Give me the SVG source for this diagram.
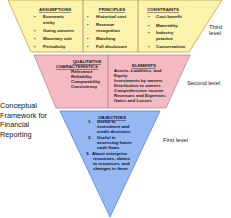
<svg xmlns="http://www.w3.org/2000/svg" width="231" height="218" viewBox="0 0 231 218">
<style>
.y{fill:#FCF3AC;stroke:#B9A65A;stroke-width:0.8}
.p{fill:#F3BAC3;stroke:#B58A8E;stroke-width:0.8}
.b{fill:#95B8F3;stroke:#5E7FC4;stroke-width:0.8}
.dv{stroke:#8E7A4A;stroke-width:0.7}
.dvp{stroke:#9A6A70;stroke-width:0.7}
text{font-family:"Liberation Sans",Arial,sans-serif}
.s{font-size:4.4px;font-weight:bold;fill:#1a1a1a}
.h{font-size:4.4px;font-weight:bold;fill:#1a1a1a;text-decoration:underline}
.sb{font-size:4.4px;font-weight:bold;fill:#0a0a30}
.hb{font-size:4.4px;font-weight:bold;fill:#0a0a30;text-decoration:underline}
.lv{font-size:5.8px;fill:#222}
.t{font-size:7.3px;fill:#111}
</style>
<g id="third-level">
<polygon class="y" points="8,0 222,0 189,52 31,52"/>
<line class="dv" x1="83" y1="0" x2="83" y2="52"/>
<line class="dv" x1="138" y1="0" x2="138" y2="52"/>
<text class="h" x="55" y="11" text-anchor="middle">ASSUMPTIONS</text>
<text class="s" x="34" y="18">•</text><text class="s" x="43" y="18">Economic</text>
<text class="s" x="43" y="24">entity</text>
<text class="s" x="34" y="32">•</text><text class="s" x="43" y="32">Going concern</text>
<text class="s" x="34" y="40">•</text><text class="s" x="43" y="40">Monetary unit</text>
<text class="s" x="34" y="48">•</text><text class="s" x="43" y="48">Periodicity</text>
<text class="h" x="112" y="11" text-anchor="middle">PRINCIPLES</text>
<text class="s" x="87" y="18">•</text><text class="s" x="96" y="18">Historical cost</text>
<text class="s" x="87" y="26">•</text><text class="s" x="96" y="26">Revenue</text>
<text class="s" x="96" y="32">recognition</text>
<text class="s" x="87" y="40">•</text><text class="s" x="96" y="40">Matching</text>
<text class="s" x="87" y="48">•</text><text class="s" x="96" y="48">Full disclosure</text>
<text class="h" x="163" y="11" text-anchor="middle">CONSTRAINTS</text>
<text class="s" x="148" y="18">•</text><text class="s" x="156" y="18">Cost-benefit</text>
<text class="s" x="148" y="27">•</text><text class="s" x="156" y="27">Materiality</text>
<text class="s" x="148" y="34">•</text><text class="s" x="156" y="34">Industry</text>
<text class="s" x="156" y="40">practice</text>
<text class="s" x="148" y="48">•</text><text class="s" x="156" y="48">Conservatism</text>
<text class="lv" x="209" y="29">Third</text>
<text class="lv" x="209" y="35">level</text>
</g>
<g id="second-level">
<polygon class="p" points="34,55 190,55 166,108 56,108"/>
<line class="dvp" x1="108" y1="55" x2="108" y2="108"/>
<text class="h" x="87" y="63" text-anchor="middle">QUALITATIVE</text>
<text class="h" x="56" y="68">CHARACTERISTICS</text>
<text class="s" x="71" y="73">Relevance</text>
<text class="s" x="71" y="78">Reliability</text>
<text class="s" x="71" y="83">Comparability</text>
<text class="s" x="71" y="88">Consistency</text>
<text class="h" x="144" y="67" text-anchor="middle">ELEMENTS</text>
<text class="s" x="114" y="72">Assets, Liabilities, and</text>
<text class="s" x="114" y="77">Equity</text>
<text class="s" x="114" y="82">Investments by owners</text>
<text class="s" x="114" y="87">Distribution to owners</text>
<text class="s" x="114" y="92">Comprehensive income</text>
<text class="s" x="114" y="97">Revenues and Expenses</text>
<text class="s" x="114" y="102">Gains and Losses</text>
<text class="lv" x="187" y="85">Second level</text>
</g>
<g id="first-level">
<polygon class="b" points="60,111 160,111 110,217"/>
<text class="hb" x="112" y="119" text-anchor="middle">OBJECTIVES</text>
<text class="sb" x="88" y="123">1.</text><text class="sb" x="97" y="123">Useful in</text>
<text class="sb" x="97" y="128">investment and</text>
<text class="sb" x="97" y="133">credit decisions</text>
<text class="sb" x="88" y="139">2.</text><text class="sb" x="97" y="139">Useful in</text>
<text class="sb" x="97" y="144">assessing future</text>
<text class="sb" x="97" y="149">cash flows</text>
<text class="sb" x="86" y="155">3.</text><text class="sb" x="92" y="155">About enterprise</text>
<text class="sb" x="93" y="160">resources, claims</text>
<text class="sb" x="93" y="165">to resources, and</text>
<text class="sb" x="93" y="170">changes in them</text>
<text class="lv" x="163" y="142">First level</text>
</g>
<g id="title">
<text class="t" x="0" y="108">Conceptual</text>
<text class="t" x="0" y="118">Framework for</text>
<text class="t" x="0" y="127">Financial</text>
<text class="t" x="0" y="137">Reporting</text>
</g>
<g id="connectors"></g>
</svg>
